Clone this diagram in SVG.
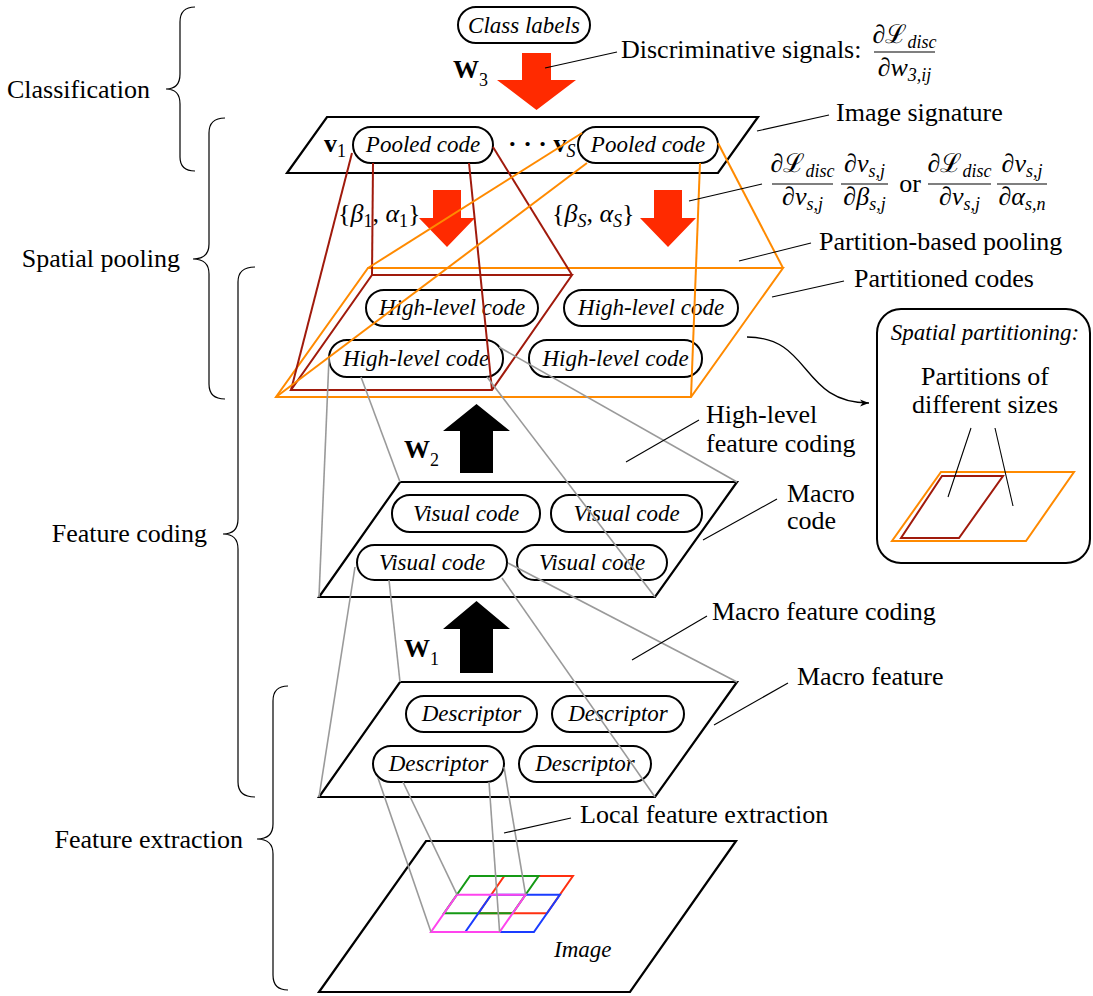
<svg xmlns="http://www.w3.org/2000/svg" width="1093" height="996" viewBox="0 0 1093 996">
  <style>
    .plane { fill: none; stroke: #000; stroke-width: 2.2; stroke-linejoin: miter; }
    .box { fill: #fff; stroke: #000; stroke-width: 2; }
    .lbl { font-family: "Liberation Serif", "DejaVu Serif", serif; font-size: 26px; fill: #000; }
    .it { font-family: "Liberation Serif", "DejaVu Serif", serif; font-style: italic; font-size: 23px; fill: #000; }
    .math { font-family: "Liberation Serif", "DejaVu Serif", serif; font-size: 26px; fill: #000; }
    .sub { font-size: 18px; font-style: italic; }
    .bold { font-family: "Liberation Serif", "DejaVu Serif", serif; font-weight: bold; font-size: 26px; fill: #000; }
    .gray { fill: none; stroke: #9a9a9a; stroke-width: 1.6; }
    .lead { fill: none; stroke: #000; stroke-width: 1.1; }
    .brace { fill: none; stroke: #000; stroke-width: 1.2; }
    .dred { fill: none; stroke: #a01a0c; stroke-width: 2; }
    .orng { fill: none; stroke: #ff8a00; stroke-width: 2; }
    .redarrow { fill: #ff2a00; }
    .blkarrow { fill: #000; }
  </style>
  <defs>
    <marker id="tip" markerWidth="10" markerHeight="8" refX="9" refY="4" orient="auto" markerUnits="userSpaceOnUse">
      <path d="M0,0.5 L9,4 L0,7.5 L2.5,4 Z" fill="#000"/>
    </marker>
  </defs>

  <!-- stage braces on the left -->
  <g id="stages">
    <path class="brace" d="M195,7 Q180,7 180,22 L180,74 Q180,89 166,89 Q180,89 180,104 L180,157 Q180,171 195,171"/>
    <text class="lbl" x="150" y="98" text-anchor="end">Classification</text>
    <path class="brace" d="M225,118 Q209,118 209,133 L209,244 Q209,259 193,259 Q209,259 209,274 L209,384 Q209,399 225,399"/>
    <text class="lbl" x="180" y="267" text-anchor="end">Spatial pooling</text>
    <path class="brace" d="M255,267 Q238,267 238,282 L238,519 Q238,534 223,534 Q238,534 238,549 L238,782 Q238,797 255,797"/>
    <text class="lbl" x="207" y="542" text-anchor="end">Feature coding</text>
    <path class="brace" d="M288,686 Q273,686 273,701 L273,824 Q273,839 257,839 Q273,839 273,854 L273,975 Q273,990 288,990"/>
    <text class="lbl" x="243" y="848" text-anchor="end">Feature extraction</text>
  </g>

  <!-- planes -->
  <g id="signature-plane">
    <polygon class="plane" points="327,117 758,117 718,173 287,173"/>
  </g>
  <g id="macro-code-plane">
    <polygon class="plane" points="400,482 737,482 655,597 319,597"/>
  </g>
  <g id="macro-feature-plane">
    <polygon class="plane" points="400,682 737,682 655,797 319,797"/>
  </g>
  <g id="image-plane">
    <polygon class="plane" points="426,841 736,841 630,992 319,992"/>
    <text class="it" x="554" y="957">Image</text>
  </g>

  <!-- local patch grid on the image -->
  <g id="patch-grid" fill="none" stroke-width="2">
    <polygon stroke="#ff3010" points="504.3,876 572.9,876 546.9,913.3 478.3,913.3"/>
    <polygon stroke="#159915" points="470,876 538.6,876 512.6,913.3 444,913.3"/>
    <polygon stroke="#1a3cff" points="491.3,894.7 559.9,894.7 533.9,932 465.3,932"/>
    <polygon stroke="#ff44ee" points="457,894.7 525.6,894.7 499.6,932 431,932"/>
  </g>

  <!-- flow arrows -->
  <g id="flow-arrows">
    <polygon class="redarrow" points="522,53 551,53 551,80 576,80 536.5,110 497,80 522,80"/>
    <polygon class="redarrow" points="433,190 461,190 461,218 475,218 447,247 419,218 433,218"/>
    <polygon class="redarrow" points="654,190 682,190 682,218 696,218 668,247 640,218 654,218"/>
    <polygon class="blkarrow" points="460,473 493,473 493,431 510,431 476.5,404 443,431 460,431"/>
    <polygon class="blkarrow" points="460,673 493,673 493,629 510,629 476.5,601 443,629 460,629"/>
  </g>

  <!-- weight labels -->
  <g id="weights">
    <text class="bold" x="453" y="78">W<tspan font-size="18" font-weight="normal" dy="8">3</tspan></text>
    <text class="bold" x="404" y="458">W<tspan font-size="18" font-weight="normal" dy="8">2</tspan></text>
    <text class="bold" x="404" y="657">W<tspan font-size="18" font-weight="normal" dy="8">1</tspan></text>
  </g>

  <!-- class labels -->
  <g id="class-labels">
    <rect class="box" x="458" y="7" width="132" height="36" rx="18"/>
    <text class="it" x="524" y="33" text-anchor="middle">Class labels</text>
  </g>

  <!-- pooled codes -->
  <g id="pooled-code-1">
    <text class="bold" x="324" y="152">v<tspan font-size="18" font-weight="normal" dy="5">1</tspan></text>
    <rect class="box" x="353" y="127" width="140" height="36" rx="18" stroke="#a01a0c"/>
    <text class="it" x="423" y="152" text-anchor="middle">Pooled code</text>
  </g>
  <g id="pooled-code-s">
    <text class="bold" x="508" y="152">· · · v<tspan class="sub" font-weight="normal" dy="5">S</tspan></text>
    <rect class="box" x="578" y="127" width="140" height="36" rx="18" stroke="#ff8a00"/>
    <text class="it" x="648" y="152" text-anchor="middle">Pooled code</text>
  </g>

  <!-- pooling parameters -->
  <g id="pooling-params">
    <text class="math" x="338" y="222">{<tspan font-style="italic">β</tspan><tspan font-size="18" dy="5">1</tspan><tspan dy="-5">, </tspan><tspan font-style="italic">α</tspan><tspan font-size="18" dy="5">1</tspan><tspan dy="-5">}</tspan></text>
    <text class="math" x="552" y="222">{<tspan font-style="italic">β</tspan><tspan class="sub" dy="5">S</tspan><tspan dy="-5">, </tspan><tspan font-style="italic">α</tspan><tspan class="sub" dy="5">S</tspan><tspan dy="-5">}</tspan></text>
  </g>

  <!-- partitioned codes plane with its two partitions -->
  <g id="partitioned-codes">
    <polygon class="orng" points="368,268 783,268 691,397 276,397"/>
    <polygon class="dred" points="372,275 572,275 492,390 291,390"/>
  </g>

  <!-- high-level codes -->
  <g id="high-level-code-1">
    <rect class="box" x="366" y="290" width="172" height="36" rx="18"/>
    <text class="it" x="452" y="315" text-anchor="middle">High-level code</text>
  </g>
  <g id="high-level-code-2">
    <rect class="box" x="564" y="290" width="174" height="36" rx="18"/>
    <text class="it" x="651" y="315" text-anchor="middle">High-level code</text>
  </g>
  <g id="high-level-code-3">
    <rect class="box" x="329" y="340" width="174" height="37" rx="18"/>
    <text class="it" x="416" y="366" text-anchor="middle">High-level code</text>
  </g>
  <g id="high-level-code-4">
    <rect class="box" x="529" y="340" width="173" height="37" rx="18"/>
    <text class="it" x="615.5" y="366" text-anchor="middle">High-level code</text>
  </g>

  <!-- visual codes -->
  <g id="visual-code-1">
    <rect class="box" x="392" y="495" width="148" height="37" rx="18"/>
    <text class="it" x="466" y="521" text-anchor="middle">Visual code</text>
  </g>
  <g id="visual-code-2">
    <rect class="box" x="551" y="495" width="151" height="37" rx="18"/>
    <text class="it" x="626.5" y="521" text-anchor="middle">Visual code</text>
  </g>
  <g id="visual-code-3">
    <rect class="box" x="357" y="545" width="150" height="35" rx="17.5"/>
    <text class="it" x="432" y="570" text-anchor="middle">Visual code</text>
  </g>
  <g id="visual-code-4">
    <rect class="box" x="517" y="545" width="150" height="35" rx="17.5"/>
    <text class="it" x="592" y="570" text-anchor="middle">Visual code</text>
  </g>

  <!-- descriptors -->
  <g id="descriptor-green">
    <rect class="box" x="406" y="696" width="131" height="36" rx="18" stroke="#159915"/>
    <text class="it" x="471.5" y="721" text-anchor="middle">Descriptor</text>
  </g>
  <g id="descriptor-red">
    <rect class="box" x="552" y="696" width="132" height="36" rx="18" stroke="#ff3010"/>
    <text class="it" x="618" y="721" text-anchor="middle">Descriptor</text>
  </g>
  <g id="descriptor-magenta">
    <rect class="box" x="373" y="746" width="131" height="36" rx="18" stroke="#ff44ee"/>
    <text class="it" x="438.5" y="771" text-anchor="middle">Descriptor</text>
  </g>
  <g id="descriptor-blue">
    <rect class="box" x="519" y="746" width="132" height="36" rx="18" stroke="#1a3cff"/>
    <text class="it" x="585" y="771" text-anchor="middle">Descriptor</text>
  </g>

  <!-- connectors between layers -->
  <g id="connectors">
    <!-- pooled code 1 to its partition -->
    <line class="dred" x1="352" y1="153" x2="291" y2="390"/>
    <line class="dred" x1="373" y1="163" x2="372" y2="275"/>
    <line class="dred" x1="469" y1="163" x2="492" y2="390"/>
    <line class="dred" x1="493" y1="147" x2="572" y2="275"/>
    <!-- pooled code S to the whole plane -->
    <line class="orng" x1="582" y1="133" x2="368" y2="268"/>
    <line class="orng" x1="587" y1="163" x2="276" y2="397"/>
    <line class="orng" x1="700" y1="163" x2="691" y2="397"/>
    <line class="orng" x1="718" y1="143" x2="783" y2="268"/>
    <!-- high-level code to macro code plane -->
    <line class="gray" x1="329" y1="358" x2="319" y2="597"/>
    <line class="gray" x1="361" y1="377" x2="400" y2="482"/>
    <line class="gray" x1="487" y1="377" x2="655" y2="597"/>
    <line class="gray" x1="499" y1="347" x2="737" y2="482"/>
    <!-- visual code to macro feature plane -->
    <line class="gray" x1="355" y1="567" x2="319" y2="797"/>
    <line class="gray" x1="389" y1="580" x2="400" y2="682"/>
    <line class="gray" x1="502" y1="578" x2="655" y2="797"/>
    <line class="gray" x1="508" y1="563" x2="737" y2="682"/>
    <!-- descriptor to image patch -->
    <line class="gray" x1="378" y1="778" x2="431" y2="932"/>
    <line class="gray" x1="403" y1="782" x2="457" y2="894.7"/>
    <line class="gray" x1="489" y1="782" x2="499.6" y2="932"/>
    <line class="gray" x1="504" y1="767" x2="525.6" y2="894.7"/>
    <!-- partitioned codes to the spatial partitioning inset -->
    <path fill="none" stroke="#000" stroke-width="1.3" d="M747,337 C812,337 800,403 869,403" marker-end="url(#tip)"/>
  </g>

  <!-- annotations on the right -->
  <g id="annotations">
    <line class="lead" x1="545" y1="68" x2="617" y2="52"/>
    <text class="lbl" x="621" y="58">Discriminative signals:</text>
    <text class="math" x="904.5" y="43" text-anchor="middle">∂ℒ<tspan class="sub" dy="5">disc</tspan></text>
    <line stroke="#000" stroke-width="1.1" x1="874" y1="52" x2="935" y2="52"/>
    <text class="math" x="904.5" y="76" text-anchor="middle">∂<tspan font-style="italic">w</tspan><tspan class="sub" font-style="normal" dy="5">3,</tspan><tspan class="sub">ij</tspan></text>

    <line class="lead" x1="757" y1="131" x2="829" y2="115"/>
    <text class="lbl" x="836" y="121">Image signature</text>

    <line class="lead" x1="689" y1="201" x2="762" y2="184"/>
    <text class="math" x="802.5" y="172" text-anchor="middle">∂ℒ<tspan class="sub" dy="5">disc</tspan></text>
    <line stroke="#000" stroke-width="1.1" x1="772" y1="184" x2="833" y2="184"/>
    <text class="math" x="802.5" y="205" text-anchor="middle">∂<tspan font-style="italic">v</tspan><tspan class="sub" dy="5">s,j</tspan></text>
    <text class="math" x="864.5" y="172" text-anchor="middle">∂<tspan font-style="italic">v</tspan><tspan class="sub" dy="5">s,j</tspan></text>
    <line stroke="#000" stroke-width="1.1" x1="841" y1="184" x2="888" y2="184"/>
    <text class="math" x="864.5" y="205" text-anchor="middle">∂<tspan font-style="italic">β</tspan><tspan class="sub" dy="5">s,j</tspan></text>
    <text class="lbl" x="910" y="192" text-anchor="middle">or</text>
    <text class="math" x="959.5" y="172" text-anchor="middle">∂ℒ<tspan class="sub" dy="5">disc</tspan></text>
    <line stroke="#000" stroke-width="1.1" x1="928" y1="184" x2="991" y2="184"/>
    <text class="math" x="959.5" y="205" text-anchor="middle">∂<tspan font-style="italic">v</tspan><tspan class="sub" dy="5">s,j</tspan></text>
    <text class="math" x="1022" y="172" text-anchor="middle">∂<tspan font-style="italic">v</tspan><tspan class="sub" dy="5">s,j</tspan></text>
    <line stroke="#000" stroke-width="1.1" x1="997" y1="184" x2="1047" y2="184"/>
    <text class="math" x="1022" y="205" text-anchor="middle">∂<tspan font-style="italic">α</tspan><tspan class="sub" dy="5">s,n</tspan></text>

    <line class="lead" x1="739" y1="261" x2="811" y2="243"/>
    <text class="lbl" x="819" y="250">Partition-based pooling</text>

    <line class="lead" x1="772" y1="297" x2="844" y2="281"/>
    <text class="lbl" x="854" y="287">Partitioned codes</text>

    <line class="lead" x1="626" y1="462" x2="699" y2="420"/>
    <text class="lbl" x="706" y="423">High-level</text>
    <text class="lbl" x="706" y="452">feature coding</text>

    <line class="lead" x1="703" y1="540" x2="777" y2="499"/>
    <text class="lbl" x="787" y="502">Macro</text>
    <text class="lbl" x="787" y="529">code</text>

    <line class="lead" x1="632" y1="660" x2="707" y2="616"/>
    <text class="lbl" x="712" y="620">Macro feature coding</text>

    <line class="lead" x1="714" y1="725" x2="788" y2="683"/>
    <text class="lbl" x="797" y="685">Macro feature</text>

    <line class="lead" x1="504" y1="833" x2="571" y2="818"/>
    <text class="lbl" x="580" y="823">Local feature extraction</text>
  </g>

  <!-- spatial partitioning inset -->
  <g id="spatial-partitioning">
    <rect x="877" y="309" width="213" height="254" rx="24" fill="#fff" stroke="#000" stroke-width="2"/>
    <text class="it" x="985" y="340" text-anchor="middle">Spatial partitioning:</text>
    <text class="lbl" x="985" y="385" text-anchor="middle">Partitions of</text>
    <text class="lbl" x="985" y="413" text-anchor="middle">different sizes</text>
    <polygon class="orng" points="941,472 1074,472 1026,541 892,541"/>
    <polygon class="dred" points="942,476 1003,476 959,538 901,538"/>
    <line class="lead" x1="971" y1="428" x2="948" y2="497"/>
    <line class="lead" x1="995" y1="428" x2="1013" y2="506"/>
  </g>
</svg>
